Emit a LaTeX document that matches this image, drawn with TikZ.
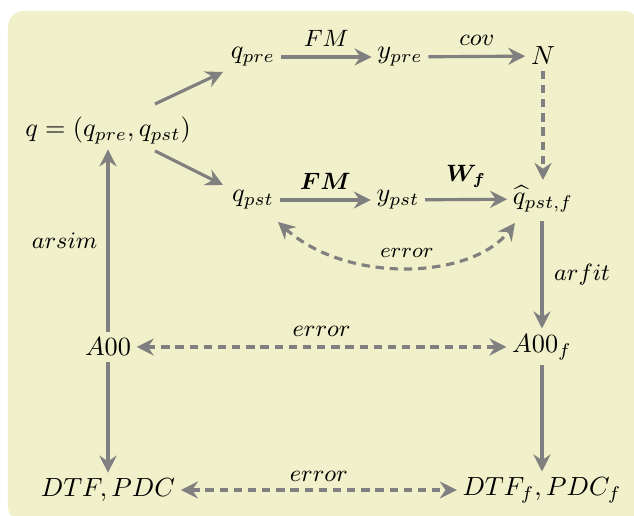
\documentclass[tikz,border=0pt]{standalone}
\usepackage{amsmath,amssymb,bm}
\usetikzlibrary{arrows.meta,calc}
\definecolor{bgpanel}{RGB}{240,240,202}
\definecolor{linkgray}{RGB}{128,128,128}
\begin{document}
\begin{tikzpicture}[x=0.01339cm,y=-0.01339cm,
  every node/.style={inner sep=2pt},
  flow/.style={draw=linkgray,line width=1.2pt,-{Stealth[length=6.5pt,width=6.5pt,inset=2.2pt]}},
  twoway/.style={draw=linkgray,line width=1.2pt,dash pattern=on 3.2pt off 2.2pt,{Stealth[length=6.5pt,width=6.5pt,inset=2.2pt]}-{Stealth[length=6.5pt,width=6.5pt,inset=2.2pt]}},
  oneway/.style={draw=linkgray,line width=1.2pt,dash pattern=on 3.2pt off 2.2pt,-{Stealth[length=6.5pt,width=6.5pt,inset=2.2pt]}},
  lbl/.style={font=\fontsize{9}{11}\selectfont},
  lblbold/.style={font=\fontsize{9}{11}\selectfont},
  lblsmall/.style={font=\fontsize{8.4}{10}\selectfont}]
\useasboundingbox (0,0) rectangle (634,516);
\fill[bgpanel,rounded corners=6pt] (8,11) rectangle (640,522);

% nodes
\node (q)    at (108,130) {$q=(q_{pre},q_{pst})$};
\node (qpre) at (253,57)  {$q_{pre}$};
\node (ypre) at (400,57)  {$y_{pre}$};
\node (N)    at (543,56)  {$N$};
\node (qpst) at (253,200) {$q_{pst}$};
\node (ypst) at (398,200) {$y_{pst}$};
\node (qhat) at (543,199) {$\widehat{q}_{pst,f}$};
\node (A)    at (108,347) {$A00$};
\node (Af)   at (542,347) {$A00_f$};
\node (D)    at (108,490) {$DTF,PDC$};
\node (Df)   at (542,490) {$DTF_f,PDC_f$};

% connectors
\draw[flow] ($(q)+(47,-26)$) -- ($(qpre)+(-30,15)$);
\draw[flow] ($(q)+(47,21)$) -- ($(qpst)+(-30,-15)$);
\draw[flow] (qpre) -- node[above,lbl,yshift=1.5pt] {$FM$} (ypre);
\draw[flow] (ypre) -- node[above,lbl,yshift=1.5pt] {$cov$} (N);
\draw[oneway] (N) -- (qhat);
\draw[flow] (qpst) -- node[above,lblbold,yshift=1.5pt] {$\boldsymbol{FM}$} (ypst);
\draw[flow] (ypst) -- node[above,lblbold,yshift=2pt] {$\boldsymbol{W_f}$} (qhat);
\draw[twoway] ($(qpst)+(25,22)$) .. controls ($(qpst)+(95,85)$) and ($(qhat)+(-70,80)$) .. node[lblsmall,above,pos=0.5,yshift=1pt] {$error$} ($(qhat)+(-28,24)$);
\draw[flow] (qhat.south -| Af) ++(0,3) -- node[right,lbl,xshift=2pt] {$arfit$} (Af);
\draw[flow] (A) -- node[left,lbl,xshift=-1.5pt] {$arsim$} (q);
\draw[twoway] (A) -- node[above,lbl,yshift=1.5pt] {$error$} (Af);
\draw[flow] (A) -- (D);
\draw[flow] (Af) -- (Df);
\draw[twoway] (D) -- node[above,lbl,yshift=0.5pt] {$error$} (Df);
\end{tikzpicture}
\end{document}
